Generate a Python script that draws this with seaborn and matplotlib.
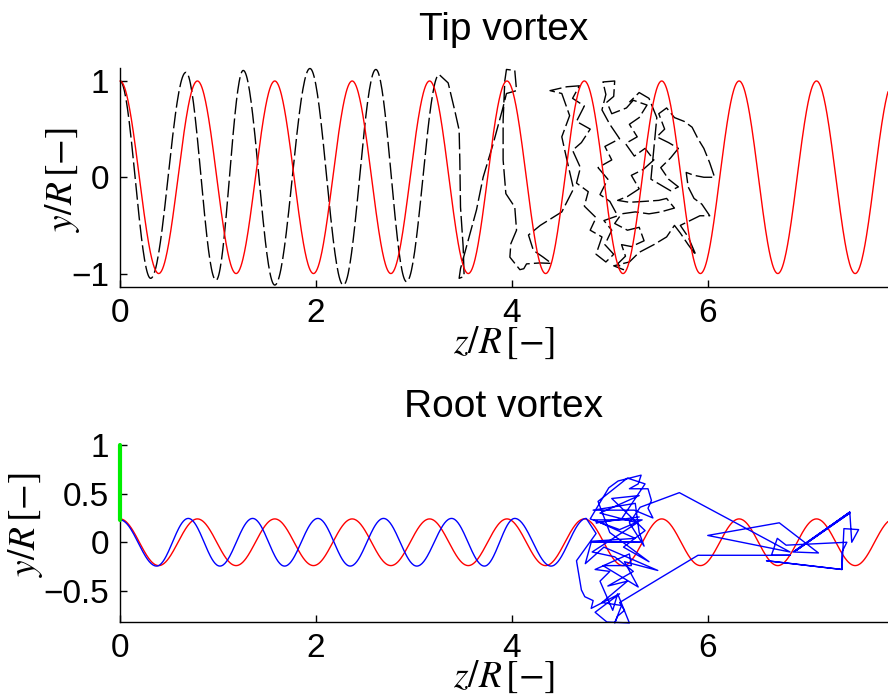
import numpy as np
import pandas as pd
import matplotlib
matplotlib.use("Agg")
import matplotlib.pyplot as plt
import seaborn as sns

# ---------------- data ----------------
# prescribed (red) helix: wavelength and amplitudes
red_wavelength = 0.79
tip_red_amp = 1.0
root_red_amp = 0.24
z_max = 7.84

# tip vortex (black): extrema of the regular part
tip_ext_z = [0.0, 0.313, 0.673, 0.98, 1.258, 1.58, 1.939, 2.28, 2.612, 2.925, 3.258]
tip_ext_y = [1.0, -1.05, 1.09, -1.07, 1.11, -1.12, 1.13, -1.12, 1.12, -1.085, 1.067]

# tip vortex (black): break-up part
tip_path_z = [3.35, 3.418, 3.462, 3.469, 3.476, 3.503, 3.513, 3.462, 3.476, 3.537, 3.639, 3.707,
              3.81, 3.911, 3.945, 4.048, 4.03, 3.945, 3.928, 3.911, 3.911, 3.939, 4.03, 4.048,
              3.99, 3.98, 4.082, 4.122, 4.15, 4.285, 4.405, 4.32, 4.22, 4.17, 4.29, 4.51, 4.63,
              4.56, 4.51, 4.59, 4.51, 4.39, 4.56, 4.69,
              4.62, 4.74, 4.66, 4.80, 4.71, 4.62, 4.70, 4.66, 4.78, 4.74, 4.86, 4.80, 4.92, 4.86,
              4.96, 5.04, 4.95, 5.02, 4.94, 5.08, 5.00, 4.90, 4.98, 4.88, 5.02, 4.95, 5.10, 5.00,
              4.92, 4.96, 4.93, 5.05, 5.04, 4.97, 5.02, 5.17, 5.24, 5.38, 5.30, 5.20, 5.28, 5.16,
              5.25, 5.36, 5.45, 5.34, 5.22, 5.30, 5.18, 5.08, 5.20, 5.36, 5.50, 5.58, 5.66, 5.52,
              5.40, 5.26, 5.12, 5.05, 5.18, 5.30, 5.35, 5.22, 5.12, 5.16, 5.08, 5.14, 5.04, 5.20,
              5.30, 5.45, 5.58, 5.66, 5.72, 5.80, 5.88, 5.80, 5.72, 5.84, 5.92, 6.02, 5.94, 5.86,
              5.80, 5.78, 5.86, 5.96, 6.07, 6.02, 5.96, 5.90, 5.84, 5.76, 5.66, 5.58, 5.50, 5.56,
              5.48, 5.60, 5.70, 5.62, 5.52, 5.60, 5.70, 5.62, 5.52, 5.42, 5.48, 5.40, 5.30, 5.20]
tip_path_y = [0.98, 0.69, 0.49, 0.18, -0.31, -0.72, -1.03, -1.05, -0.95, -0.72, -0.34, 0.00,
              0.35, 0.73, 0.87, 0.90, 1.11, 1.12, 1.00, 0.59, 0.18, -0.17, -0.31, -0.55,
              -0.69, -0.83, -0.96, -0.95, -0.90, -0.89, -0.895, -0.83, -0.76, -0.60, -0.50, -0.36, -0.12,
              0.19, 0.42, 0.64, 0.87, 0.90, 0.94, 0.95,
              0.82, 0.74, 0.58, 0.50, 0.36, 0.28, 0.10, -0.06, -0.15, -0.30, -0.42, -0.55, -0.62, -0.80,
              -0.88, -0.80, -0.70, -0.55, -0.45, -0.40, -0.25, -0.18, -0.02, 0.10, 0.18, 0.32, 0.40, 0.55,
              0.70, 0.86, 0.99, 1.00, 0.84, 0.78, 0.66, 0.72, 0.80, 0.75, 0.62, 0.55, 0.42, 0.35,
              0.22, 0.30, 0.18, 0.08, 0.02, -0.12, -0.20, -0.24, -0.26, -0.25, -0.24, -0.22, -0.32, -0.36,
              -0.38, -0.36, -0.38, -0.48, -0.55, -0.52, -0.66, -0.72, -0.70, -0.82, -0.90, -0.96, -0.92, -0.88,
              -0.78, -0.70, -0.62, -0.50, -0.58, -0.70, -0.81, -0.62, -0.50, -0.44, -0.40, -0.40, -0.28, -0.22,
              -0.10, 0.05, 0.02, 0.00, 0.00, 0.15, 0.30, 0.40, 0.52, 0.58, 0.62, 0.72, 0.66, 0.50,
              0.42, 0.36, 0.30, 0.20, 0.10, -0.02, -0.10, -0.14, -0.08, -0.02, 0.62, 0.82, 0.88, 0.78]

# root vortex (blue): extrema of the regular part
root_ext_z = [0.0, 0.374, 0.697, 1.02, 1.354, 1.68, 2.02, 2.35, 2.69, 3.03, 3.385, 3.72, 4.03, 4.40, 4.76]
root_ext_y = [0.23, -0.245, 0.245, -0.245, 0.245, -0.245, 0.245, -0.245, 0.245, -0.245, 0.245,
              -0.245, 0.245, -0.245, 0.245]

# root vortex (blue): break-up part
root_path_z = [4.86, 4.66, 4.71, 4.745, 4.83, 4.81, 5.10, 4.85, 4.97, 5.20, 5.08, 5.03, 4.90, 5.00,
               4.85, 5.20, 5.22, 4.93, 5.29, 5.15, 5.49, 4.94, 4.75, 4.81, 5.31, 4.81, 5.26, 4.93,
               4.84, 5.33, 5.10, 4.80, 4.99, 5.085, 5.32, 5.29, 5.20, 5.39, 5.425, 5.39, 5.44, 5.25,
               4.83, 5.26, 5.30, 5.35, 5.20, 5.31, 5.71, 6.84, 6.00, 6.73, 7.13, 6.87, 7.45, 6.89,
               7.45, 6.91, 7.45, 7.47, 7.54, 7.39, 7.37, 6.60, 7.37, 7.37, 7.42, 6.80, 6.71, 6.65,
               6.84, 5.90, 5.51, 5.10, 5.15, 5.08, 5.05,
               5.12, 4.92, 5.18, 4.98, 5.24, 5.05, 4.82, 5.28, 4.90, 5.30, 5.02, 5.36, 5.14, 5.40,
               5.00, 4.88, 5.18, 5.36, 5.12, 4.86, 5.30]
root_path_y = [0.09, -0.19, -0.49, -0.56, -0.60, -0.68, -0.53, -0.72, -0.82, -0.83, -0.53, -0.70, -0.40, -0.30,
               -0.28, -0.12, -0.24, -0.24, -0.46, -0.20, -0.29, -0.05, -0.22, 0.00, 0.00, 0.01, 0.04, 0.19,
               0.23, 0.23, 0.13, 0.24, 0.56, 0.63, 0.69, 0.60, 0.55, 0.55, 0.43, 0.35, 0.25, 0.33,
               0.33, 0.40, 0.10, -0.04, 0.20, 0.36, 0.51, -0.10, 0.07, 0.20, -0.11, -0.10, 0.31, -0.09,
               0.30, -0.08, 0.31, 0.00, 0.13, 0.14, -0.28, -0.19, -0.28, -0.10, 0.00, -0.03, 0.04, -0.134,
               -0.134, -0.134, -0.37, -0.62, -0.70, -0.76, -0.83,
               -0.65, -0.62, -0.40, -0.45, -0.30, -0.15, -0.10, 0.20, 0.30, 0.48, 0.45, 0.12, -0.05, -0.20,
               0.10, 0.42, 0.66, 0.60, 0.24, 0.20, 0.26]

# green marker line at z = 0 in the root plot
green_z = [0.0, 0.0]
green_y = [0.23, 1.0]

# axes
x_ticks = [0, 2, 4, 6]
tip_yticks = [-1, 0, 1]
root_yticks = [-0.5, 0, 0.5, 1]
tip_ylim = (-1.14, 1.135)
root_ylim = (-0.82, 1.0)


def through_extrema(zs, ys, n=40):
    """Smooth half-wave shape passing through the read extrema."""
    outz, outy = [], []
    for i in range(len(zs) - 1):
        t = np.linspace(0, 1, n, endpoint=False)
        outz.extend(zs[i] + (zs[i + 1] - zs[i]) * t)
        outy.extend((ys[i] + ys[i + 1]) / 2 + (ys[i] - ys[i + 1]) / 2 * np.cos(np.pi * t))
    outz.append(zs[-1]); outy.append(ys[-1])
    return outz, outy


# ---------------- build series ----------------
z_red = np.linspace(0, z_max, 1500)
phase = np.cos(2 * np.pi * z_red / red_wavelength)
tip_red = pd.DataFrame({"z": z_red, "y": tip_red_amp * phase})
root_red = pd.DataFrame({"z": z_red, "y": root_red_amp * phase})

tz, ty = through_extrema(tip_ext_z, tip_ext_y)
tip_blk = pd.DataFrame({"z": tz + tip_path_z, "y": ty + tip_path_y})
rz, ry = through_extrema(root_ext_z, root_ext_y)
root_blu = pd.DataFrame({"z": rz + root_path_z, "y": ry + root_path_y})

# ---------------- style ----------------
sns.set_theme(style="ticks")
plt.rcParams["font.family"] = ["Liberation Sans", "DejaVu Sans"]
plt.rcParams["mathtext.fontset"] = "stix"
plt.rcParams["axes.unicode_minus"] = True
plt.rcParams["text.color"] = "black"
plt.rcParams["axes.labelcolor"] = "black"

fig = plt.figure(figsize=(8.88, 6.97), dpi=100)
W, H = 888, 697
ax1 = fig.add_axes([120 / W, 1 - 287 / H, 768 / W, 219 / H])
ax2 = fig.add_axes([120 / W, 1 - 622 / H, 768 / W, 177 / H])

FS = 24
TFS = 28
LFS = 27

sns.lineplot(data=tip_blk, x="z", y="y", ax=ax1, sort=False, estimator=None,
             color="black", linewidth=1.0, linestyle=(0, (12, 3)))
sns.lineplot(data=tip_red, x="z", y="y", ax=ax1, sort=False, estimator=None,
             color="#ff0000", linewidth=1.0)

sns.lineplot(data=root_red, x="z", y="y", ax=ax2, sort=False, estimator=None,
             color="#ff0000", linewidth=1.0)
sns.lineplot(data=root_blu, x="z", y="y", ax=ax2, sort=False, estimator=None,
             color="#0000ff", linewidth=1.0)
sns.lineplot(x=green_z, y=green_y, ax=ax2, sort=False, estimator=None,
             color="#00ee00", linewidth=3.0, zorder=5)

for ax, yl, yt, title in [(ax1, tip_ylim, tip_yticks, "Tip vortex"),
                          (ax2, root_ylim, root_yticks, "Root vortex")]:
    ax.set_xlim(0, z_max)
    ax.set_ylim(*yl)
    ax.set_xticks(x_ticks)
    ax.set_xticklabels([str(v) for v in x_ticks])
    ax.set_yticks(yt)
    ax.set_yticklabels([("\u2212" if v < 0 else "") + (f"{abs(v):g}") for v in yt])
    ax.tick_params(direction="in", length=5, width=1, labelsize=FS, pad=8, colors="black")
    for s in ["top", "right"]:
        ax.spines[s].set_visible(False)
    for s in ["left", "bottom"]:
        ax.spines[s].set_color("black")
        ax.spines[s].set_linewidth(1.0)
    ax.set_title(title, fontsize=TFS, pad=20, color="black")
    ax.set_xlabel(r"$z/R\,[-]$", fontsize=LFS)
    ax.set_ylabel(r"$y/R\,[-]$", fontsize=LFS)
    ax.set_facecolor("white")
    for l in ax.get_lines():
        l.set_clip_on(False)

ax1.xaxis.set_label_coords(0.5, -0.17)
ax2.xaxis.set_label_coords(0.5, -0.21)
ax1.yaxis.set_label_coords(-0.05, 0.49)
ax2.yaxis.set_label_coords(-0.098, 0.55)

fig.savefig("out.png", dpi=100, facecolor="white")
